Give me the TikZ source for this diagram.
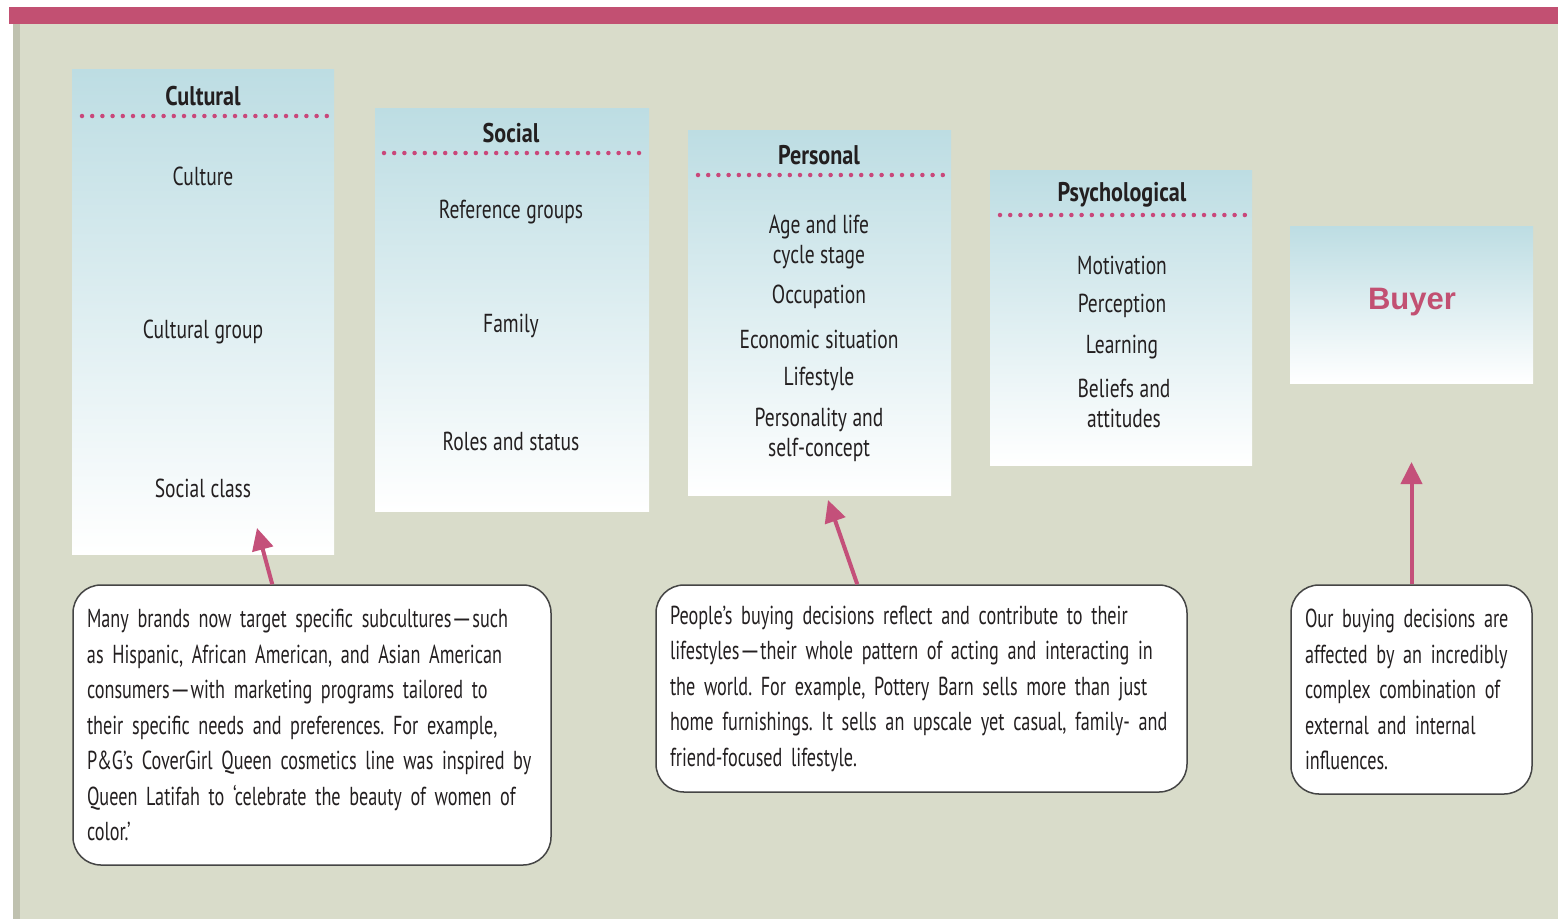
\documentclass[tikz,border=0pt]{standalone}
\usepackage{fontspec}
\usepackage{graphicx}
\setmainfont{PT Sans}[FakeStretch=0.70]
\newfontfamily\headfont{PT Sans}[FakeStretch=0.82]
\newfontfamily\itemfont{PT Sans}[FakeStretch=0.75]
\newfontfamily\buyerfont{Liberation Sans}
\usetikzlibrary{arrows.meta,calc}

\definecolor{barpink}{HTML}{C25072}
\definecolor{panel}{HTML}{D9DCCA}
\definecolor{stripe}{HTML}{BFC1AF}
\definecolor{catblue}{HTML}{BDDDE3}
\definecolor{dotpink}{HTML}{C9477A}
\definecolor{arrowpink}{HTML}{C4507A}
\definecolor{ink}{HTML}{231F20}
\definecolor{noteline}{HTML}{454545}

% tight word spaces and a long dash for the condensed note text
\newcommand\itemspacing{\spaceskip 5.5pt\relax}
\newcommand\notespacing{\spaceskip 2.5pt\relax}
\newcommand\longdash{\scalebox{1.4}[1]{—}}

\begin{document}
\frenchspacing
\begin{tikzpicture}[x=1pt,y=-1pt,
  catbox/.style={draw=none, top color=catblue, bottom color=white, inner sep=0pt},
  cattitle/.style={text=ink, font=\headfont\bfseries\fontsize{27}{30}\selectfont, inner sep=0pt},
  catitem/.style={text=ink, font=\itemfont\fontsize{26}{30}\selectfont\itemspacing, align=center, inner sep=0pt},
  dotline/.style={dotpink, line width=4.5pt, line cap=round, dash pattern=on 0pt off 10.2pt},
  buyertext/.style={text=barpink, font=\buyerfont\bfseries\fontsize{31}{34}\selectfont, inner sep=0pt},
  note/.style={draw=noteline, line width=1.5pt, fill=white, rounded corners=28pt,
    text=ink, font=\fontsize{26}{35.5}\selectfont\notespacing,
    align=left, inner xsep=14pt, inner ysep=0pt},
  pinkarrow/.style={draw=arrowpink, line width=4pt, -{Triangle[length=22pt,width=21pt]}}
]
\useasboundingbox (0,0) rectangle (1558,919);

% page background, panel, left edge and top band
\fill[white] (0,0) rectangle (1558,919);
\fill[panel] (13,24) rectangle (1558,919);
\fill[stripe] (13,24) rectangle (20,919);
\fill[barpink] (9,7) rectangle (1558,24);

% category columns
\node[catbox, minimum width=262pt, minimum height=485pt] (cultural) at (203,311.5) {};
\node[catbox, minimum width=274pt, minimum height=403pt] (social) at (512,309.5) {};
\node[catbox, minimum width=263pt, minimum height=365pt] (personal) at (819.5,312.5) {};
\node[catbox, minimum width=262pt, minimum height=295pt] (psych) at (1121,317.5) {};
\node[catbox, minimum width=243pt, minimum height=157pt] (buyer) at (1411.5,304.5) {};

% column headings and dotted rules
\node[cattitle] (culturalT) at (203,96) {Cultural};
\draw[dotline] (82,116) -- (327,116);
\node[cattitle] (socialT) at (511,133) {Social};
\draw[dotline] (384,153) -- (648,153);
\node[cattitle] (personalT) at (819,155) {Personal};
\draw[dotline] (698,175) -- (943,175);
\node[cattitle] (psychT) at (1122,195) {Psychological};
\draw[dotline] (1000,215) -- (1245,215);

% cultural factors
\node[catitem] (culture) at (203,176) {Culture};
\node[catitem] (culturalgroup) at (203,332) {Cultural group};
\node[catitem] (socialclass) at (203,488) {Social class};

% social factors
\node[catitem] (refgroups) at (511,212) {Reference groups};
\node[catitem] (family) at (511,326) {Family};
\node[catitem] (roles) at (511,441) {Roles and status};

% personal factors
\node[catitem] (age) at (819,242) {Age and life\\cycle stage};
\node[catitem] (occupation) at (819,297) {Occupation};
\node[catitem] (economic) at (819,339) {Economic situation};
\node[catitem] (lifestyle) at (819,379) {Lifestyle};
\node[catitem] (personality) at (819,435) {Personality and\\self-concept};

% psychological factors
\node[catitem] (motivation) at (1122,265) {Motivation};
\node[catitem] (perception) at (1122,306) {Perception};
\node[catitem] (learning) at (1122,347) {Learning};
\node[catitem] (beliefs) at (1124,403) {Beliefs and\\attitudes};

\node[buyertext] (buyerT) at (1412,302) {Buyer};

% callout notes (each line kept whole in an \mbox)
\node[note, minimum width=478pt, minimum height=280pt, text width=450pt] (note1) at (312,725)
  {\mbox{Many brands now target specific subcultures\longdash such}\\
   \mbox{as Hispanic, African American, and Asian American}\\
   \mbox{consumers\longdash with marketing programs tailored to}\\
   \mbox{their specific needs and preferences. For example,}\\
   \mbox{P\&G’s CoverGirl Queen cosmetics line was inspired by}\\
   \mbox{Queen Latifah to ‘celebrate the beauty of women of}\\
   \mbox{color.’}};
\node[note, minimum width=531pt, minimum height=207pt, text width=503pt] (note2) at (921.5,688.5)
  {\mbox{People’s buying decisions reflect and contribute to their}\\
   \mbox{lifestyles\longdash their whole pattern of acting and interacting in}\\
   \mbox{the world. For example, Pottery Barn sells more than just}\\
   \mbox{home furnishings. It sells an upscale yet casual, family- and}\\
   \mbox{friend-focused lifestyle.}};
\node[note, minimum width=241pt, minimum height=209pt, text width=213pt] (note3) at (1411.5,689.5)
  {\mbox{Our buying decisions are}\\
   \mbox{affected by an incredibly}\\
   \mbox{complex combination of}\\
   \mbox{external and internal}\\
   \mbox{influences.}};

% arrows from the notes up to the factors they explain
\coordinate (tipCultural) at (257,528);
\coordinate (tipPersonal) at (828,500);
\coordinate (tipBuyer) at (1411.5,462);
\draw[pinkarrow] ($(note1.north west)+(200,0)$) -- (tipCultural);
\draw[pinkarrow] ($(note2.north west)+(202,0)$) -- (tipPersonal);
\draw[pinkarrow] (note3.north) -- (tipBuyer);
\end{tikzpicture}
\end{document}
